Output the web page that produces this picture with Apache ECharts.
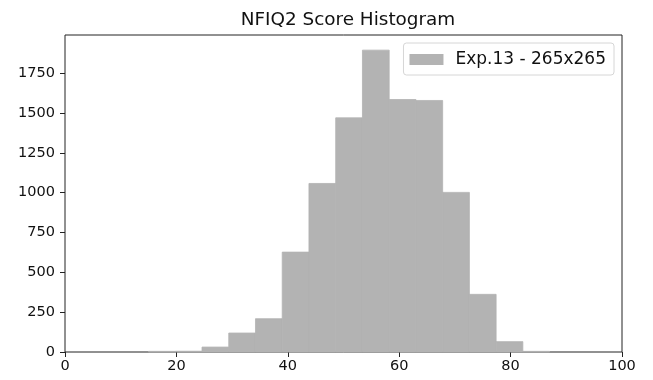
<!DOCTYPE html>
<html>
<head>
<meta charset="utf-8">
<script src="https://cdn.jsdelivr.net/npm/echarts@6/dist/echarts.min.js"></script>
<style>html,body{margin:0;padding:0;background:#fff}#c{width:653px;height:380px}</style>
</head>
<body>
<div id="c"></div>
<script>
// Histogram bins (left edges) and counts
const binStarts = [15, 19.8, 24.6, 29.4, 34.2, 39, 43.8, 48.6, 53.4, 58.2, 63, 67.8, 72.6, 77.4, 82.2];
const binWidth = 4.8;
const counts = [4, 5, 31, 119, 209, 627, 1058, 1470, 1895, 1585, 1579, 1002, 362, 65, 4];
const xTicks = [0, 20, 40, 60, 80, 100];
const yTicks = [0, 250, 500, 750, 1000, 1250, 1500, 1750];
const seriesName = 'Exp.13 - 265x265';
const titleText = 'NFIQ2 Score Histogram';

const data = binStarts.map((s, i) => [s, s + binWidth, counts[i]]);
const font = 'DejaVu Sans';
const chart = echarts.init(document.getElementById('c'), null, {renderer: 'canvas'});
chart.setOption({
  animation: false,
  backgroundColor: '#fff',
  title: {
    text: titleText, left: 343, textAlign: 'center', top: 6,
    textStyle: {fontFamily: font, fontSize: 18.4, fontWeight: 'normal', color: '#111'}
  },
  legend: {
    right: 39, top: 43,
    data: [{name: seriesName, icon: 'rect'}],
    itemWidth: 34, itemHeight: 11, itemGap: 0,
    padding: [8, 8, 7, 6],
    borderColor: '#d6d6d6', borderWidth: 1, borderRadius: 3,
    textStyle: {fontFamily: font, fontSize: 17, color: '#111', padding: [0, 0, 0, 7]}
  },
  grid: {left: 65, right: 31, top: 35, bottom: 28, show: true, borderColor: '#222', borderWidth: 1, backgroundColor: 'transparent'},
  xAxis: {
    type: 'value', min: 0, max: 100, interval: 20,
    axisLine: {show: false},
    splitLine: {show: false},
    axisTick: {show: true, length: 5, lineStyle: {color: '#222'}, customValues: xTicks},
    axisLabel: {fontFamily: font, fontSize: 14.5, color: '#111', margin: 7, customValues: xTicks}
  },
  yAxis: {
    type: 'value', min: 0, max: 1990, interval: 250,
    axisLine: {show: false},
    splitLine: {show: false},
    axisTick: {show: true, length: 5, lineStyle: {color: '#222'}, customValues: yTicks},
    axisLabel: {fontFamily: font, fontSize: 14.5, color: '#111', margin: 10, customValues: yTicks,
      formatter: function (v) { return String(v); }}
  },
  series: [{
    name: seriesName,
    type: 'custom',
    itemStyle: {color: '#b3b3b3'},
    encode: {x: [0, 1], y: 2},
    data: data,
    renderItem: function (params, api) {
      const p0 = api.coord([api.value(0), api.value(2)]);
      const p1 = api.coord([api.value(1), 0]);
      return {
        type: 'rect',
        shape: {x: p0[0], y: p0[1], width: p1[0] - p0[0], height: p1[1] - p0[1]},
        style: {fill: '#b3b3b3', stroke: '#b3b3b3', lineWidth: 0.8}
      };
    }
  }]
});
</script>
</body>
</html>
